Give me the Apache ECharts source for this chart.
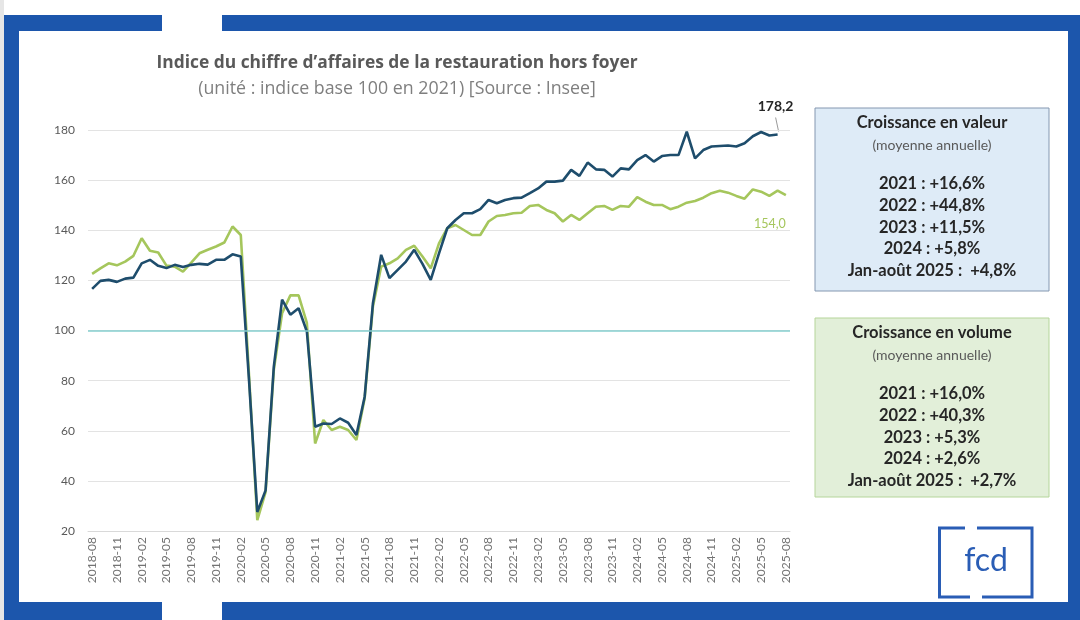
<!DOCTYPE html>
<html lang="fr">
<head>
<meta charset="UTF-8">
<title>Indice du chiffre d'affaires de la restauration hors foyer</title>
<script src="https://cdn.jsdelivr.net/npm/echarts@6/dist/echarts.min.js"></script>
<style>
  html, body { margin: 0; padding: 0; background: #fff; }
  #chart { width: 1080px; height: 620px; }
</style>
</head>
<body>
<div id="chart"></div>
<script>
// months 2018-08 .. 2025-08
const months = [];
for (let y = 2018, m = 8; y < 2025 || (y === 2025 && m <= 8); m++) {
  if (m > 12) { m = 1; y++; }
  months.push(y + '-' + String(m).padStart(2, '0'));
}

// indice en valeur (base 100 en 2021)
const valeurData = [
  116.6, 119.8, 120.2, 119.4, 120.7, 121.1, 126.8, 128.2, 125.8, 124.9,
  126.2, 125.3, 126.2, 126.6, 126.3, 128.2, 128.2, 130.4, 129.5, 80.0,
  27.6, 36.2, 85.6, 112.3, 106.3, 108.9, 99.6, 61.6, 62.9, 62.7,
  64.9, 63.2, 58.3, 73.6, 110.9, 130.2, 120.9, 124.2, 127.5, 132.2,
  126.6, 120.2, 130.8, 140.8, 144.1, 146.8, 146.8, 148.4, 152.1, 150.8,
  152.1, 152.8, 153.0, 154.8, 156.7, 159.4, 159.4, 159.8, 164.1, 161.7,
  167.0, 164.3, 164.1, 161.4, 164.7, 164.3, 168.0, 170.0, 167.4, 169.6,
  170.0, 170.0, 179.3, 168.7, 172.0, 173.4, 173.6, 173.8, 173.4, 174.7,
  177.5, 179.2, 177.8, 178.2, null
];

// indice en volume
const volumeData = [
  122.6, 124.8, 126.8, 126.0, 127.5, 129.8, 136.8, 131.8, 131.1, 125.9,
  125.5, 123.5, 127.1, 130.8, 132.2, 133.5, 135.1, 141.5, 138.1, 82.0,
  24.3, 35.5, 84.3, 106.9, 114.0, 114.0, 103.0, 54.9, 64.3, 60.3,
  61.6, 60.3, 56.3, 73.0, 109.6, 125.5, 126.8, 128.8, 132.2, 133.8,
  129.5, 124.8, 134.8, 140.8, 142.1, 140.1, 138.1, 138.1, 143.5, 145.7,
  146.1, 146.8, 147.0, 149.7, 150.1, 148.1, 146.8, 143.5, 146.1, 144.1,
  146.8, 149.4, 149.7, 148.1, 149.7, 149.4, 153.2, 151.4, 150.1, 150.1,
  148.4, 149.4, 151.0, 151.7, 153.0, 154.8, 155.8, 155.0, 153.7, 152.6,
  156.3, 155.4, 153.7, 155.8, 154.0
];

const valeurTitle = 'Croissance en valeur';
const valeurRows = ['2021 : +16,6%', '2022 : +44,8%', '2023 : +11,5%', '2024 : +5,8%', 'Jan-août 2025 :  +4,8%'];
const volumeTitle = 'Croissance en volume';
const volumeRows = ['2021 : +16,0%', '2022 : +40,3%', '2023 : +5,3%', '2024 : +2,6%', 'Jan-août 2025 :  +2,7%'];
const boxSub = '(moyenne annuelle)';

const BLUE = '#1e4d6c';
const GREEN = '#a5c65c';
const FRAME = '#1c56ac';
const FONT = 'Lato, "Open Sans", sans-serif';
const TITLE_FONT = '"Open Sans", Lato, sans-serif';

const fmt = v => v.toFixed(1).replace('.', ',');
const lastIdx = arr => { let i = arr.length - 1; while (arr[i] == null) i--; return i; };

function text(x, y, str, size, weight, color) {
  return {
    type: 'text', silent: true,
    style: {
      x: x, y: y, text: str,
      font: weight + ' ' + size + 'px ' + FONT,
      fill: color,
      align: 'center', verticalAlign: 'middle',
      textAlign: 'center', textVerticalAlign: 'middle'
    }
  };
}

function infoBox(top, height, fill, stroke, title, rows) {
  const cx = 932;
  const els = [{
    type: 'rect', silent: true,
    shape: { x: 815, y: top, width: 234, height: height },
    style: { fill: fill, stroke: stroke, lineWidth: 1 }
  }];
  els.push(text(cx, top + 15, title, 16.5, 'bold', '#262626'));
  els.push(text(cx, top + 37, boxSub, 14, 'normal', '#595959'));
  rows.forEach((r, i) => els.push(text(cx, top + 76 + i * 21.6, r, 16.5, 'bold', '#262626')));
  return els;
}

function rect(x, y, w, h, color) {
  return { type: 'rect', silent: true, shape: { x: x, y: y, width: w, height: h }, style: { fill: color } };
}

const frame = [
  rect(0, 0, 4, 620, '#e6e6e6'),
  rect(4, 15, 15, 605, FRAME),
  rect(4, 15, 158, 16, FRAME),
  rect(222, 15, 858, 16, FRAME),
  rect(4, 602, 158, 18, FRAME),
  rect(222, 602, 858, 18, FRAME),
  rect(1068, 15, 12, 605, FRAME)
];

const logoColor = '#2a5db5';
const logo = [
  { type: 'polyline', silent: true, shape: { points: [[965, 528], [939.5, 528], [939.5, 597], [970, 597]] },
    style: { stroke: logoColor, lineWidth: 3, fill: null } },
  { type: 'polyline', silent: true, shape: { points: [[977, 528], [1032, 528], [1032, 597], [982, 597]] },
    style: { stroke: logoColor, lineWidth: 3, fill: null } },
  text(986, 561, 'fcd', 32, 'normal', logoColor)
];

const chart = echarts.init(document.getElementById('chart'));

const vLast = lastIdx(valeurData);
const gLast = lastIdx(volumeData);

chart.setOption({
  backgroundColor: '#fff',
  animation: false,
  textStyle: { fontFamily: FONT },
  title: [
    {
      text: 'Indice du chiffre d’affaires de la restauration hors foyer',
      left: 392, top: 50, textAlign: 'center',
      textStyle: { fontSize: 17.4, fontWeight: 'bold', color: '#595959', fontFamily: TITLE_FONT }
    },
    {
      text: '(unité : indice base 100 en 2021) [Source : Insee]',
      left: 392, top: 75, textAlign: 'center',
      textStyle: { fontSize: 17.8, fontWeight: 'normal', color: '#7f7f7f', fontFamily: TITLE_FONT }
    }
  ],
  grid: { left: 88, right: 290, top: 130, bottom: 89 },
  xAxis: {
    type: 'category',
    data: months,
    boundaryGap: true,
    axisTick: { show: false },
    axisLine: { show: true, lineStyle: { color: '#d9d9d9', width: 1 } },
    axisLabel: { rotate: 90, interval: 2, fontSize: 12, color: '#737373', margin: 6, fontFamily: FONT }
  },
  yAxis: {
    type: 'value',
    min: 20, max: 180, interval: 20,
    axisLine: { show: false },
    axisTick: { show: false },
    axisLabel: { fontSize: 12, color: '#595959', margin: 13, fontFamily: FONT },
    splitLine: { lineStyle: { color: '#e3e3e3', width: 1 } }
  },
  series: [
    {
      name: 'Volume',
      type: 'line',
      data: volumeData,
      showSymbol: false,
      symbol: 'none',
      lineStyle: { color: GREEN, width: 2.6 },
      itemStyle: { color: GREEN },
      markLine: {
        silent: true, symbol: 'none',
        label: { show: false },
        lineStyle: { color: '#86cfcf', width: 1.5, type: 'solid' },
        data: [{ yAxis: 100 }]
      },
      markPoint: {
        silent: true,
        symbol: 'circle', symbolSize: 1,
        itemStyle: { color: 'rgba(0,0,0,0)' },
        label: {
          show: true, position: 'bottom', offset: [-16, 17],
          formatter: p => fmt(p.value), color: GREEN, fontSize: 12.5, fontFamily: FONT
        },
        data: [{ coord: [gLast, volumeData[gLast]], value: volumeData[gLast] }]
      },
      z: 2
    },
    {
      name: 'Valeur',
      type: 'line',
      data: valeurData,
      showSymbol: false,
      symbol: 'none',
      lineStyle: { color: BLUE, width: 2.6 },
      itemStyle: { color: BLUE },
      markPoint: {
        silent: true,
        symbol: 'circle', symbolSize: 1,
        itemStyle: { color: 'rgba(0,0,0,0)' },
        label: {
          show: true, position: 'top', offset: [-2, -16],
          formatter: p => fmt(p.value), color: '#262626', fontSize: 14, fontWeight: 'bold', fontFamily: FONT
        },
        data: [{ coord: [vLast, valeurData[vLast]], value: valeurData[vLast] }]
      },
      z: 3
    }
  ],
  graphic: [].concat(
    frame,
    infoBox(108, 183, '#deebf7', '#8497b0', valeurTitle, valeurRows),
    infoBox(318, 179, '#e2efd9', '#b5d59a', volumeTitle, volumeRows),
    logo
  )
});

// small leader line from the last value point up to its label
const pEnd = chart.convertToPixel({ seriesIndex: 1 }, [vLast, valeurData[vLast]]);
chart.setOption({
  graphic: [{
    type: 'line', silent: true, id: 'leader',
    shape: { x1: pEnd[0] + 1, y1: pEnd[1] - 3, x2: pEnd[0] - 2, y2: pEnd[1] - 17 },
    style: { stroke: '#9a9a9a', lineWidth: 1 }
  }]
});
</script>
</body>
</html>
